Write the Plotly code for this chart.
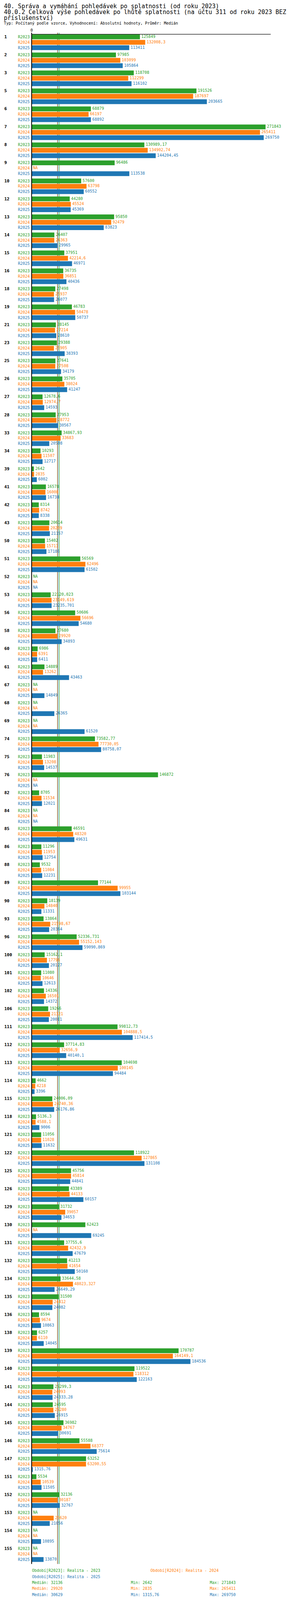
import plotly.graph_objects as go

# --- data ---
groups = ["1", "2", "3", "5", "6", "7", "8", "9", "10", "12", "13", "14", "15", "16", "18",
          "19", "21", "23", "25", "26", "27", "28", "33", "34", "39", "41", "42", "43", "50",
          "51", "52", "53", "56", "58", "60", "61", "67", "68", "69", "74", "75", "76", "82",
          "84", "85", "86", "88", "89", "90", "93", "96", "100", "101", "102", "106", "111",
          "112", "113", "114", "115", "118", "121", "122", "125", "126", "129", "130", "131",
          "132", "134", "135", "136", "138", "139", "140", "141", "144", "145", "146", "147",
          "151", "152", "153", "154", "155"]

r2023 = [125849, 97985, 118708, 191526, 68879, 271843, 130989.17, 96486, 57600, 44280,
         95850, 26407, 37951, 36735, 27498, 46783, 28145, 29388, 27641, 35705, 12678.6,
         27953, 34867.93, 10293, 2642, 16578, 8314, 20614, 15402, 56569, None, 22120.023,
         50606, 27680, 6986, 14889, None, None, None, 73582.77, 11983, 146872, 8705, None,
         46591, 11296, 9532, 77144, 18139, 13864, 52336.731, 15162.1, 11080, 14336, 19266,
         99812.73, 37714.83, 104698, 4662, 24006.09, 5136.3, 11056, 118922, 45756, 43389,
         31732, 62423, 37755.6, 41213, 33644.58, 31500, 8594, 6257, 170787, 119522, 25299.3,
         24595, 36982, 55588, 63252, 5534, 32136, None, None, None]

r2024 = [132008.3, 103099, 112299, 187697, 66197, 265411, 134902.74, None, 63798, 45524,
         92479, 26363, 42214.6, 36851, 25937, 50478, 27214, 25905, 27508, 38024, 12974.7,
         28772, 33683, 11507, 2835, 16008, 8742, 20269, 15711, 62496, None, 23149.619,
         56696, 29920, 6391, 13262, None, None, None, 77730.05, 13208, None, 11534, None,
         48320, 11953, 11084, 99955, 14840, 21598.67, 55152.143, 17796, 10646, 16501, 21321,
         104888.5, 32656.9, 100145, 4218, 24740.36, 4588.1, 11028, 127865, 45814, 44133,
         39057, None, 42432.9, 41654, 48023.327, 24412, 9674, 6110, 164149.1, 118312, 24093,
         25280, 34767, 68377, 63200.55, 10539, 30187, 25620, None, None]

r2025 = [113411, 105864, 116102, 203665, 68892, 269750, 144204.45, 113538, 60552, 45369,
         83823, 29965, 46971, 40436, 26077, 50737, 28610, 38393, 34179, 41247, 14593,
         30567, 20508, 12717, 6002, 16738, 8338, 21157, 17186, 61502, None, 23235.701,
         54680, 34893, 6411, 43463, 14849, 26365, 61520, 80758.07, 14537, None, 12021, None,
         49631, 12754, 12231, 103144, 11331, 20364, 59090.869, 20127, 12613, 14372, 20011,
         117414.5, 40140.1, 94484, 3396, 26176.86, 9006, 11632, 131108, 44841, 60157,
         34653, 69245, 47679, 50160, 26649.29, 24082, 10863, 14045, 184536, 122163, 24333.28,
         26915, 30691, 75614, 1315.76, 11505, 32767, 21056, 10895, 13870]

series_names = ["R2023", "R2024", "R2025"]
period_texts = ["Období[R2023]: Realita - 2023",
                "Období[R2024]: Realita - 2024",
                "Období[R2025]: Realita - 2025"]
medians = [32136, 29920, 30629]

title_lines = ["40. Správa a vymáhání pohledávek po splatnosti (od roku 2023)",
               "40.0.2 Celková výše pohledávek po lhůtě splatnosti (na účtu 311 od roku 2023 BEZ",
               "příslušenství)"]
subtitle = "Typ: Počítaný podle vzorce, Vyhodnocení: Absolutní hodnoty, Průměr: Medián"

# --- styling / geometry ---
# positions below are in reference pixels (750 x 5334); the browser shot is
# only ~4096 px tall, so the vertical axis squeezes them to fit the view.
colors = ["#2ca02c", "#ff7f0e", "#1f77b4"]
FONT = "DejaVu Sans Mono"
REF_W, REF_H = 750, 5334
VIEW_H = 4096
FY = VIEW_H / REF_H           # vertical squeeze
BODY = 8                      # default body margin of the html page
FIG_W, FIG_H = REF_W - 2 * BODY, VIEW_H - 2 * BODY
AXIS_PX = 81
SCALE = 0.0022025             # pixels per unit
PX = 1 / SCALE
ROW0, GROUP_STEP, BAR_STEP, BAR_W = 123, 60, 18, 16
AXIS_TOP, AXIS_LINE_Y, AXIS_BOTTOM = 109, 114, 5214


def px_to_x(p):
    return (p - AXIS_PX) * PX


def paper_x(p):
    return (p - BODY) / FIG_W


def fmt(v):
    if v is None:
        return "NA"
    s = repr(float(v))
    if s.endswith(".0"):
        s = s[:-2]
    return s.replace(".", ",")


all_series = [r2023, r2024, r2025]
fig = go.Figure()
annotations = []


def note(text, px, py, size=10, color="black", anchor="left", bold=False):
    annotations.append(dict(text=f"<b>{text}</b>" if bold else text,
                            xref="paper", yref="y", x=paper_x(px), y=py,
                            xanchor=anchor, yanchor="middle", showarrow=False,
                            font=dict(family=FONT, size=size, color=color)))


for j, vals in enumerate(all_series):
    ys = [ROW0 + i * GROUP_STEP + j * BAR_STEP for i in range(len(groups))]
    fig.add_trace(go.Bar(x=vals, y=ys, orientation="h", width=BAR_W,
                         marker=dict(color=colors[j], line=dict(width=0)),
                         hoverinfo="skip", showlegend=False))
    # value labels, NA sits at the zero line
    fig.add_trace(go.Scatter(x=[(v if v is not None else 0) + 3.5 * PX for v in vals], y=ys,
                             mode="text", text=[fmt(v) for v in vals],
                             textposition="middle right",
                             textfont=dict(family=FONT, size=10, color=colors[j]),
                             hoverinfo="skip", showlegend=False, cliponaxis=False))
    for y in ys:
        note(series_names[j], 77.5, y, color=colors[j], anchor="right")

for i, g in enumerate(groups):
    note(g, 9, ROW0 + i * GROUP_STEP, size=11, bold=True)

# median lines
for j, m in enumerate(medians):
    fig.add_shape(type="line", xref="x", yref="y", x0=m, x1=m, y0=AXIS_TOP, y1=AXIS_BOTTOM,
                  line=dict(color=colors[j], width=1.2), layer="below")

# axis lines
axis_max = max(max(v for v in s if v is not None) for s in all_series) * 1.022
fig.add_shape(type="line", xref="x", yref="y", x0=0, x1=0, y0=AXIS_TOP, y1=AXIS_BOTTOM,
              line=dict(color="black", width=2))
fig.add_shape(type="line", xref="x", yref="y", x0=0, x1=axis_max, y0=AXIS_LINE_Y,
              y1=AXIS_LINE_Y, line=dict(color="black", width=1.2))

# titles (pushed down a little so the first line clears the page margin)
for k, line in enumerate(title_lines):
    note(line, BODY, 21 + k * 19.5, size=15)
note(subtitle, BODY, 77, size=10)
annotations.append(dict(text="0", xref="x", yref="y", x=0, y=101, xanchor="center",
                        yanchor="middle", showarrow=False,
                        font=dict(family=FONT, size=10, color="black")))

# legend block
note(period_texts[0], 80, 5236, color=colors[0])
note(period_texts[1], 383, 5236, color=colors[1])
note(period_texts[2], 80, 5256, color=colors[2])
for j, vals in enumerate(all_series):
    present = [v for v in vals if v is not None]
    py = 5276 + j * 20
    note("Medián: " + fmt(medians[j]), 80, py, color=colors[j])
    note("Min: " + fmt(min(present)), 333, py, color=colors[j])
    note("Max: " + fmt(max(present)), 535, py, color=colors[j])

fig.update_layout(
    width=FIG_W, height=FIG_H,
    margin=dict(l=0, r=0, t=0, b=0, autoexpand=False),
    paper_bgcolor="white", plot_bgcolor="white",
    barmode="overlay",
    xaxis=dict(range=[px_to_x(BODY), px_to_x(BODY + FIG_W)], visible=False,
               fixedrange=True, domain=[0, 1]),
    yaxis=dict(range=[(BODY + FIG_H) / FY, BODY / FY], visible=False,
               fixedrange=True, domain=[0, 1]),
    annotations=annotations,
    showlegend=False,
)

fig.write_html("out.html")
